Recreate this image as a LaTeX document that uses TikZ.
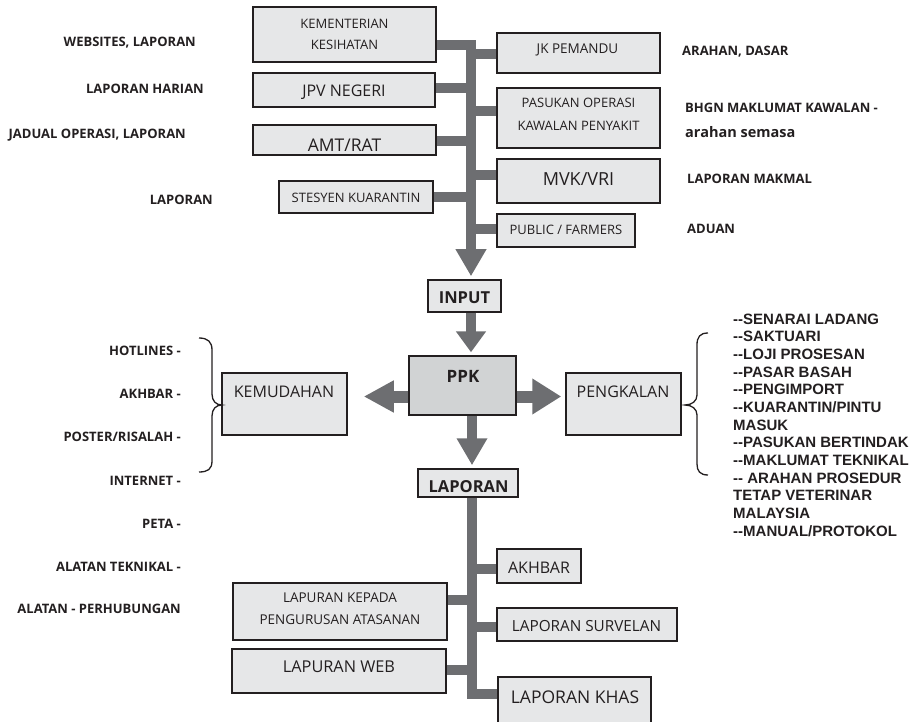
\documentclass[tikz,border=0pt]{standalone}
\usepackage{fontspec}
\newfontfamily\osans{Open Sans}
\newfontfamily\lsans{Liberation Sans}
\usetikzlibrary{arrows.meta}
\definecolor{boxfill}{HTML}{E6E7E8}
\definecolor{ppkfill}{HTML}{D1D3D4}
\definecolor{boxline}{HTML}{231F20}
\definecolor{connc}{HTML}{6D6E71}
\newcommand\dd{-\kern0pt-}
\begin{document}
\begin{tikzpicture}[x=1pt,y=-1pt,
  box/.style={draw=boxline, fill=boxfill, line width=1.5pt, inner sep=0pt},
  ppkbox/.style={box, fill=ppkfill},
  btxt/.style 2 args={font=\osans\fontsize{#1}{#2}\selectfont, inner sep=0pt, align=center, text=boxline},
  bbtxt/.style={font=\osans\bfseries\fontsize{#1}{#1}\selectfont, inner sep=0pt, text=boxline},
  lbl/.style={font=\osans\bfseries\fontsize{#1}{#1}\selectfont, inner sep=0pt, text=boxline},
  conn/.style={draw=connc, line width=10pt, line join=miter},
  wide/.style={draw=connc, line width=12pt},
  brace/.style={draw=boxline, line width=1.3pt}
]
\useasboundingbox (0,0) rectangle (919,722);

% ---------- boxes ----------
\node[box, minimum width=183, minimum height=55] (kk) at (344.5,34.5) {};
\node[box, minimum width=182, minimum height=34] (jpv) at (344,90) {};
\node[box, minimum width=183, minimum height=30] (amt) at (344.5,140) {};
\node[box, minimum width=154, minimum height=32] (stq) at (356,197) {};
\node[box, minimum width=163, minimum height=40] (jk) at (578.5,53) {};
\node[box, minimum width=163, minimum height=60] (pas) at (578.5,118) {};
\node[box, minimum width=163, minimum height=44] (mvk) at (578.5,181) {};
\node[box, minimum width=138, minimum height=33] (pub) at (566,230.5) {};
\node[box, minimum width=73, minimum height=32] (input) at (464.5,296) {};
\node[ppkbox, minimum width=107, minimum height=59] (ppk) at (462.5,385.5) {};
\node[box, minimum width=125, minimum height=62] (kem) at (284.5,404) {};
\node[box, minimum width=115, minimum height=62] (pengk) at (623.5,404) {};
\node[box, minimum width=100, minimum height=28] (lap) at (468,483) {};
\node[box, minimum width=84, minimum height=34] (akh) at (539,566) {};
\node[box, minimum width=180, minimum height=33] (surv) at (587,624.5) {};
\node[box, minimum width=153, minimum height=48] (khas) at (574.5,701) {};
\node[box, minimum width=214, minimum height=57] (kep) at (340,611.5) {};
\node[box, minimum width=214, minimum height=44] (web) at (339,671) {};

% ---------- box texts ----------
\node[btxt={13}{21}] (kkt) at (344.5,34.5) {KEMENTERIAN\\KESIHATAN};
\node[btxt={16}{16}] (jpvt) at (344,92) {JPV NEGERI};
\node[btxt={17.5}{17.5}] (amtt) at (344.5,145) {AMT/RAT};
\node[btxt={13}{13}] (stqt) at (356,198) {STESYEN KUARANTIN};
\node[btxt={13.5}{13.5}] (jkt) at (577.5,50) {JK PEMANDU};
\node[btxt={13}{23}] (past) at (578.5,114.5) {PASUKAN OPERASI\\KAWALAN PENYAKIT};
\node[btxt={18}{18}] (mvkt) at (578.5,179) {MVK/VRI};
\node[btxt={13}{13}] (pubt) at (566,230) {PUBLIC / FARMERS};
\node[bbtxt={16.5}] (inputt) at (464.5,298) {INPUT};
\node[bbtxt={17}] (ppkt) at (463,376) {PPK};
\node[btxt={16}{16}] (kemt) at (284,392) {KEMUDAHAN};
\node[btxt={16}{16}] (pengkt) at (623,392) {PENGKALAN};
\node[bbtxt={16.5}] (lapt) at (468.5,487) {LAPORAN};
\node[btxt={16}{16}] (akht) at (539,568) {AKHBAR};
\node[btxt={15.3}{15.3}] (survt) at (586.5,626) {LAPORAN SURVELAN};
\node[btxt={17.5}{17.5}] (khast) at (575,697) {LAPORAN KHAS};
\node[btxt={13.5}{22}] (kept) at (340,609) {LAPURAN KEPADA\\PENGURUSAN ATASANAN};
\node[btxt={16.3}{16.3}] (webt) at (339,667) {LAPURAN WEB};

% ---------- side labels ----------
\node[lbl={13}, anchor=east] (l1) at (196,43) {WEBSITES, LAPORAN};
\node[lbl={13}, anchor=east] (l2) at (204,89) {LAPORAN HARIAN};
\node[lbl={13}, anchor=east] (l3) at (186,135) {JADUAL OPERASI, LAPORAN};
\node[lbl={13}, anchor=east] (l4) at (213,200) {LAPORAN};
\node[lbl={13}, anchor=west] (r1) at (682,52) {ARAHAN, DASAR};
\node[lbl={13}, anchor=west] (r2) at (685,108) {BHGN MAKLUMAT KAWALAN -};
\node[lbl={14.5}, anchor=west] (r3) at (685,132) {arahan semasa};
\node[lbl={13}, anchor=west] (r4) at (687,179) {LAPORAN MAKMAL};
\node[lbl={13}, anchor=west] (r5) at (687,229) {ADUAN};

\node[lbl={13}, anchor=east] (k1) at (181,351) {HOTLINES -};
\node[lbl={13}, anchor=east] (k2) at (181,394) {AKHBAR -};
\node[lbl={13}, anchor=east] (k3) at (181,437) {POSTER/RISALAH -};
\node[lbl={13}, anchor=east] (k4) at (181,481) {INTERNET -};
\node[lbl={13}, anchor=east] (k5) at (181,524) {PETA -};
\node[lbl={13}, anchor=east] (k6) at (181,567) {ALATAN TEKNIKAL -};
\node[lbl={13}, anchor=east] (k7) at (181,609) {ALATAN - PERHUBUNGAN};

\node[font=\lsans\bfseries\fontsize{15}{17.67}\selectfont, align=left, anchor=north west, inner sep=0pt, text=boxline] (plist) at (733,313.5)
 {\dd SENARAI LADANG\\\dd SAKTUARI\\\dd LOJI PROSESAN\\\dd PASAR BASAH\\\dd PENGIMPORT\\\dd KUARANTIN/PINTU\\MASUK\\\dd PASUKAN BERTINDAK\\\dd MAKLUMAT TEKNIKAL\\\dd{} ARAHAN PROSEDUR\\TETAP VETERINAR\\MALAYSIA\\\dd MANUAL/PROTOKOL};

% ---------- braces ----------
\draw[brace] (199,338) .. controls (208,338) and (212,342) .. (212,350) -- (212,394)
  .. controls (212,401) and (216,405) .. (222,405)
  .. controls (216,405) and (212,409) .. (212,416) -- (212,461)
  .. controls (212,469) and (208,472) .. (199,472);
\draw[brace] (708,333) .. controls (700,333) and (697,337) .. (697,345) -- (697,395)
  .. controls (697,401) and (692,405) .. (685,405)
  .. controls (692,405) and (697,409) .. (697,415) -- (697,464)
  .. controls (697,471) and (700,475) .. (708,475);

% ---------- top trunk ----------
\coordinate (tx) at (471,0);
\coordinate (jkk) at (471,45.5);
\coordinate (jjk) at (471,54.5);
\coordinate (jjpv) at (471,88);
\coordinate (jpas) at (471,111);
\coordinate (jamt) at (471,141.5);
\coordinate (jmvk) at (471,175);
\coordinate (jstq) at (471,197);
\coordinate (jpub) at (471,229.5);
\draw[conn, -{Triangle[length=27pt,width=29pt]}, shorten >=3pt] (kk.east |- jkk) -- (jkk) -- (tx |- input.north);
\draw[conn] (jjk) -- (jk.west |- jjk);
\draw[conn] (jjpv) -- (jpv.east |- jjpv);
\draw[conn] (jpas) -- (pas.west |- jpas);
\draw[conn] (jamt) -- (amt.east |- jamt);
\draw[conn] (jmvk) -- (mvk.west |- jmvk);
\draw[conn] (jstq) -- (stq.east |- jstq);
\draw[conn] (jpub) -- (pub.west |- jpub);

% ---------- middle arrows ----------
\draw[conn, -{Triangle[length=21pt,width=29pt]}, shorten >=3pt] (tx |- input.south) -- (tx |- ppk.north);
\coordinate (bx) at (472,0);
\draw[conn, -{Triangle[length=27pt,width=29pt]}, shorten >=3pt] (bx |- ppk.south) -- (bx |- lap.north);
\coordinate (hy) at (0,396.5);
\draw[wide, -{Triangle[length=29pt,width=34pt]}, shorten >=4pt] (ppk.east |- hy) -- (pengk.west |- hy);
\draw[wide, -{Triangle[length=30pt,width=30pt]}, shorten >=16pt] (ppk.west |- hy) -- (kem.east |- hy);

% ---------- bottom trunk ----------
\coordinate (jakh) at (472,569);
\coordinate (jkep) at (472,600);
\coordinate (jsurv) at (472,627);
\coordinate (jweb) at (472,670);
\coordinate (jkh) at (472,694);
\draw[conn] (bx |- lap.south) -- (jkh) -- (khas.west |- jkh);
\draw[conn] (jakh) -- (akh.west |- jakh);
\draw[conn] (jkep) -- (kep.east |- jkep);
\draw[conn] (jsurv) -- (surv.west |- jsurv);
\draw[conn] (jweb) -- (web.east |- jweb);
\end{tikzpicture}
\end{document}
